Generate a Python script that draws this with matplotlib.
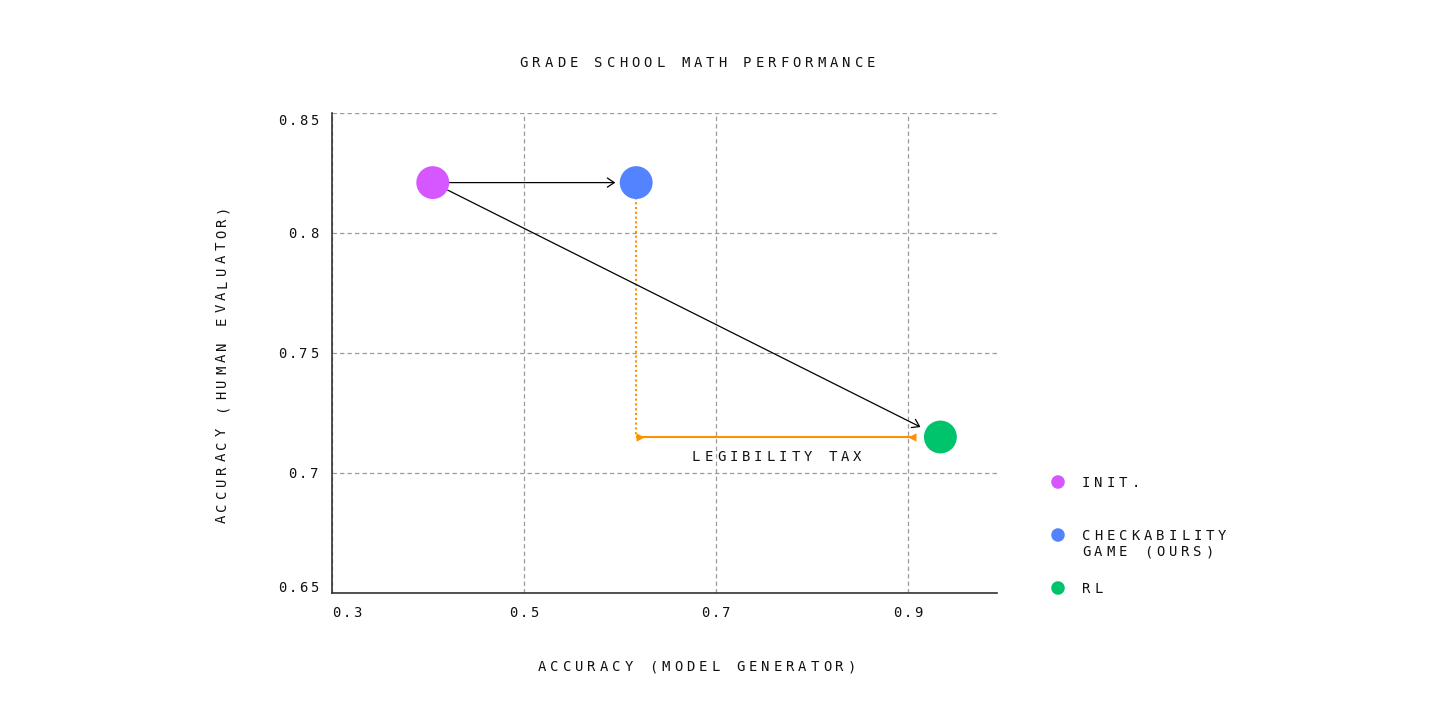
import matplotlib
matplotlib.use("Agg")
import matplotlib.pyplot as plt
from matplotlib.transforms import blended_transform_factory, IdentityTransform

# ---------------- data ----------------
title = "GRADE SCHOOL MATH PERFORMANCE"
xlabel = "ACCURACY (MODEL GENERATOR)"
ylabel = "ACCURACY (HUMAN EVALUATOR)"
methods = ["INIT.", "CHECKABILITY\nGAME (OURS)", "RL"]
gen_acc = [0.405, 0.617, 0.934]          # accuracy (model generator)
human_acc = [0.821, 0.821, 0.715]        # accuracy (human evaluator)
colors = ["#D657FF", "#5383FF", "#00C46B"]
xticks = [0.3, 0.5, 0.7, 0.9]
xticklabels = ["0.3", "0.5", "0.7", "0.9"]
yticks = [0.65, 0.7, 0.75, 0.8, 0.85]
yticklabels = ["0.65", "0.7", "0.75", "0.8", "0.85"]
tax_label = "LEGIBILITY TAX"
tax_end = 0.909

# ---------------- style ----------------
W, H, DPI = 1456, 728, 100
PT = DPI / 72.0
FONT = "DejaVu Sans Mono"
FS = 10
CAP = 0.729 * FS            # cap height in points
TEXT = "#111111"
ORANGE = "#FF9100"
GRID = "#9c9c9c"

fig = plt.figure(figsize=(W / DPI, H / DPI), dpi=DPI)
ax = fig.add_axes([332 / W, 1 - 593 / H, (997 - 332) / W, (593 - 113) / H])
ax.set_xlim(0.3, 0.993)
ax.set_ylim(0.65, 0.85)
ax.set_xticks(xticks)
ax.set_yticks(yticks)
ax.tick_params(length=0, labelbottom=False, labelleft=False)
ax.grid(True, color=GRID, lw=0.9, linestyle=(0, (3.5, 2.5)), zorder=0)
ax.set_axisbelow(True)
for s in ["top", "right"]:
    ax.spines[s].set_visible(False)
for s in ["left", "bottom"]:
    ax.spines[s].set_color("#333333")
    ax.spines[s].set_linewidth(1.2)


def tracked(s, x, y, coords, pitch_px, ha="center", rotation=0, dx=0, dy=0, glyph_px=8):
    """Letter-spaced text; (x, y) is the centre of the cap height of the line."""
    pitch = pitch_px / PT
    g = glyph_px / PT
    n = len(s)
    if ha == "center":
        start = -(n - 1) * pitch / 2
    elif ha == "left":
        start = g / 2
    else:
        start = -(n - 1) * pitch - g / 2
    for i, ch in enumerate(s):
        if ch == " ":
            continue
        d = start + i * pitch
        if rotation == 0:
            off = (dx / PT + d, dy / PT - CAP / 2)
        else:
            off = (dx / PT + CAP / 2, dy / PT + d)
        ax.annotate(ch, xy=(x, y), xycoords=coords, xytext=off,
                    textcoords="offset points", ha="center", va="baseline",
                    rotation=rotation, rotation_mode="anchor", fontsize=FS,
                    family=FONT, color=TEXT, annotation_clip=False)


# ---------------- marks ----------------
# orange legibility-tax guide
ax.plot([gen_acc[1], gen_acc[1]], [human_acc[1], human_acc[2]], color=ORANGE,
        lw=1.5, linestyle=(0, (1, 1.3)), zorder=2)
ax.plot([gen_acc[1], tax_end], [human_acc[2], human_acc[2]], color=ORANGE,
        lw=1.5, zorder=2, solid_capstyle="butt")
tri_right = [(0, -1), (0, 1), (2, 0), (0, -1)]
tri_left = [(0, -1), (0, 1), (-2, 0), (0, -1)]
ax.plot([gen_acc[1]], [human_acc[2]], marker=tri_right, ms=12, color=ORANGE,
        mew=0, linestyle="none", zorder=2)
ax.plot([tax_end], [human_acc[2]], marker=tri_left, ms=12, color=ORANGE,
        mew=0, linestyle="none", zorder=2)

# black arrows
arrow_kw = dict(arrowstyle="->,head_length=0.45,head_width=0.3", color="black",
                lw=0.9, mutation_scale=11)
ax.annotate("", xy=(gen_acc[1], human_acc[1]), xytext=(gen_acc[0], human_acc[0]),
            arrowprops=dict(shrinkA=12, shrinkB=15, **arrow_kw), zorder=3)
ax.annotate("", xy=(gen_acc[2], human_acc[2]), xytext=(gen_acc[0], human_acc[0]),
            arrowprops=dict(shrinkA=12, shrinkB=16, **arrow_kw), zorder=3)

ax.scatter(gen_acc, human_acc, s=560, c=colors, linewidths=0, zorder=4)

# ---------------- text ----------------
tracked(tax_label, (gen_acc[1] + tax_end) / 2 + 0.0005, human_acc[2], "data", 12.4, dy=-19)

xtrans = blended_transform_factory(ax.transData, ax.transAxes)
for v, lab in zip(xticks, xticklabels):
    if v == xticks[0]:
        tracked(lab, v, 0, xtrans, 10.6, ha="left", dy=-19)
    else:
        tracked(lab, v, 0, xtrans, 10.6, dy=-19)

ytrans = blended_transform_factory(ax.transAxes, ax.transData)
ynudge = {0.85: -7, 0.65: 6}
for v, lab in zip(yticks, yticklabels):
    tracked(lab, 0, v, ytrans, 10.6, ha="right", dx=-14, dy=ynudge.get(v, 0))

tracked(title, 697.5, H - 62, "figure pixels", 12.4)
tracked(xlabel, 697, H - 666, "figure pixels", 12.4)
tracked(ylabel, 221, H - 364, "figure pixels", 12.4, rotation=90)

# ---------------- legend ----------------
leg_y = [482, 535, 588]
ax.scatter([1058] * 3, [H - y for y in leg_y], s=95, c=colors, linewidths=0,
           transform=IdentityTransform(), clip_on=False, zorder=5)
for lab, y in zip(methods, leg_y):
    for j, line in enumerate(lab.split("\n")):
        tracked(line, 1082, H - y - 16 * j, "figure pixels", 12.4, ha="left")

fig.savefig("out.png", dpi=DPI, facecolor="white")
